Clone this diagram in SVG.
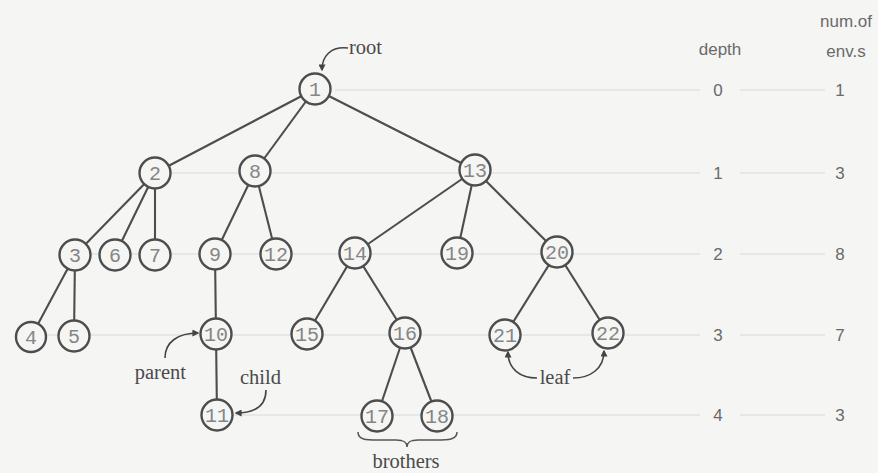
<svg xmlns="http://www.w3.org/2000/svg" width="878" height="473" viewBox="0 0 878 473">
  <defs>
    <marker id="tip" viewBox="0 0 10 10" refX="8" refY="5" markerWidth="7" markerHeight="7" orient="auto" markerUnits="userSpaceOnUse">
      <path d="M0,0 L10,5 L0,10 z" fill="#444"/>
    </marker>
    <style>
      .guide { stroke: #e7e7e7; stroke-width: 2; }
      .edge { stroke: #4d4d4d; stroke-width: 2.1; fill: none; }
      .node circle { fill: #f5f5f4; stroke: #4d4d4d; stroke-width: 2.4; }
      .node text { font-family: "Liberation Mono", "DejaVu Sans Mono", monospace; font-size: 20px; fill: #858585; text-anchor: middle; }
      .note { font-family: "Liberation Serif", "DejaVu Serif", serif; font-size: 20.5px; fill: #4a4a4a; }
      .callout { stroke: #444; stroke-width: 1.6; fill: none; marker-end: url(#tip); }
      .col { font-family: "Liberation Sans", "DejaVu Sans", sans-serif; font-size: 17px; fill: #6a6a6a; text-anchor: middle; }
    </style>
  </defs>

  <rect width="878" height="473" fill="#f5f5f4"/>

  <!-- faint level guides -->
  <g id="guides">
    <line class="guide" x1="335" y1="90" x2="700" y2="90"/>
    <line class="guide" x1="740" y1="90" x2="825" y2="90"/>
    <line class="guide" x1="170" y1="173" x2="700" y2="173"/>
    <line class="guide" x1="740" y1="173" x2="825" y2="173"/>
    <line class="guide" x1="90" y1="254" x2="700" y2="254"/>
    <line class="guide" x1="740" y1="254" x2="825" y2="254"/>
    <line class="guide" x1="45" y1="335" x2="700" y2="335"/>
    <line class="guide" x1="740" y1="335" x2="825" y2="335"/>
    <line class="guide" x1="230" y1="415" x2="700" y2="415"/>
    <line class="guide" x1="740" y1="415" x2="825" y2="415"/>
  </g>

  <!-- tree edges -->
  <g id="edges">
    <line class="edge" x1="315" y1="89" x2="155" y2="173"/>
    <line class="edge" x1="315" y1="89" x2="255" y2="171"/>
    <line class="edge" x1="315" y1="89" x2="475" y2="170"/>
    <line class="edge" x1="155" y1="173" x2="75" y2="255"/>
    <line class="edge" x1="155" y1="173" x2="115" y2="255"/>
    <line class="edge" x1="155" y1="173" x2="155" y2="255"/>
    <line class="edge" x1="255" y1="171" x2="215" y2="254"/>
    <line class="edge" x1="255" y1="171" x2="276" y2="254"/>
    <line class="edge" x1="75" y1="255" x2="31" y2="337"/>
    <line class="edge" x1="75" y1="255" x2="74" y2="336"/>
    <line class="edge" x1="215" y1="254" x2="216" y2="334"/>
    <line class="edge" x1="216" y1="334" x2="217" y2="415"/>
    <line class="edge" x1="475" y1="170" x2="355" y2="253"/>
    <line class="edge" x1="475" y1="170" x2="457" y2="253"/>
    <line class="edge" x1="475" y1="170" x2="557" y2="252"/>
    <line class="edge" x1="355" y1="253" x2="307" y2="334"/>
    <line class="edge" x1="355" y1="253" x2="405" y2="333"/>
    <line class="edge" x1="405" y1="333" x2="377" y2="416"/>
    <line class="edge" x1="405" y1="333" x2="437" y2="416"/>
    <line class="edge" x1="557" y1="252" x2="505" y2="335"/>
    <line class="edge" x1="557" y1="252" x2="608" y2="333"/>
  </g>

  <!-- tree nodes -->
  <g id="n1" class="node"><circle cx="315" cy="89" r="15.5"/><text x="315" y="96">1</text></g>
  <g id="n2" class="node"><circle cx="155" cy="173" r="15.5"/><text x="155" y="180">2</text></g>
  <g id="n8" class="node"><circle cx="255" cy="171" r="15.5"/><text x="255" y="178">8</text></g>
  <g id="n13" class="node"><circle cx="475" cy="170" r="15.5"/><text x="475" y="177">13</text></g>
  <g id="n3" class="node"><circle cx="75" cy="255" r="15.5"/><text x="75" y="262">3</text></g>
  <g id="n6" class="node"><circle cx="115" cy="255" r="15.5"/><text x="115" y="262">6</text></g>
  <g id="n7" class="node"><circle cx="155" cy="255" r="15.5"/><text x="155" y="262">7</text></g>
  <g id="n9" class="node"><circle cx="215" cy="254" r="15.5"/><text x="215" y="261">9</text></g>
  <g id="n12" class="node"><circle cx="276" cy="254" r="15.5"/><text x="276" y="261">12</text></g>
  <g id="n14" class="node"><circle cx="355" cy="253" r="15.5"/><text x="355" y="260">14</text></g>
  <g id="n19" class="node"><circle cx="457" cy="253" r="15.5"/><text x="457" y="260">19</text></g>
  <g id="n20" class="node"><circle cx="557" cy="252" r="15.5"/><text x="557" y="259">20</text></g>
  <g id="n4" class="node"><circle cx="31" cy="337" r="15"/><text x="31" y="344">4</text></g>
  <g id="n5" class="node"><circle cx="74" cy="336" r="15.5"/><text x="74" y="343">5</text></g>
  <g id="n10" class="node"><circle cx="216" cy="334" r="15.5"/><text x="216" y="341">10</text></g>
  <g id="n15" class="node"><circle cx="307" cy="334" r="15.5"/><text x="307" y="341">15</text></g>
  <g id="n16" class="node"><circle cx="405" cy="333" r="15.5"/><text x="405" y="340">16</text></g>
  <g id="n21" class="node"><circle cx="505" cy="335" r="15.5"/><text x="505" y="342">21</text></g>
  <g id="n22" class="node"><circle cx="608" cy="333" r="15.5"/><text x="608" y="340">22</text></g>
  <g id="n11" class="node"><circle cx="217" cy="415" r="15.5"/><text x="217" y="422">11</text></g>
  <g id="n17" class="node"><circle cx="377" cy="416" r="15.5"/><text x="377" y="423">17</text></g>
  <g id="n18" class="node"><circle cx="437" cy="416" r="15.5"/><text x="437" y="423">18</text></g>

  <!-- annotations -->
  <g id="root-label">
    <path class="callout" d="M348,48 C331,46 322,56 322,70"/>
    <text class="note" x="349" y="54">root</text>
  </g>
  <g id="parent-label">
    <path class="callout" d="M165,358 C165,342 178,333 198,333"/>
    <text class="note" x="186" y="379" text-anchor="end">parent</text>
  </g>
  <g id="child-label">
    <path class="callout" d="M266,390 C266,405 256,413 236,413"/>
    <text class="note" x="240" y="384">child</text>
  </g>
  <g id="leaf-label">
    <path class="callout" d="M537,378 C520,378 508,369 508,352"/>
    <path class="callout" d="M573,378 C590,378 604,369 604,351"/>
    <text class="note" x="555" y="384" text-anchor="middle">leaf</text>
  </g>
  <g id="brothers-label">
    <path d="M358,432 C358,440 366,440 378,440 L396,440 C404,440 407,442 407,447 C407,442 410,440 418,440 L436,440 C448,440 457,440 457,432" stroke="#555" stroke-width="1.5" fill="none"/>
    <text class="note" x="406" y="468" text-anchor="middle">brothers</text>
  </g>

  <!-- depth / count columns -->
  <g id="columns">
    <text class="col" x="846" y="27">num.of</text>
    <text class="col" x="720" y="55">depth</text>
    <text class="col" x="846" y="57">env.s</text>
    <text class="col" x="718" y="96">0</text>
    <text class="col" x="840" y="96">1</text>
    <text class="col" x="718" y="179">1</text>
    <text class="col" x="840" y="179">3</text>
    <text class="col" x="718" y="260">2</text>
    <text class="col" x="840" y="260">8</text>
    <text class="col" x="718" y="341">3</text>
    <text class="col" x="840" y="341">7</text>
    <text class="col" x="718" y="421">4</text>
    <text class="col" x="840" y="421">3</text>
  </g>
</svg>
